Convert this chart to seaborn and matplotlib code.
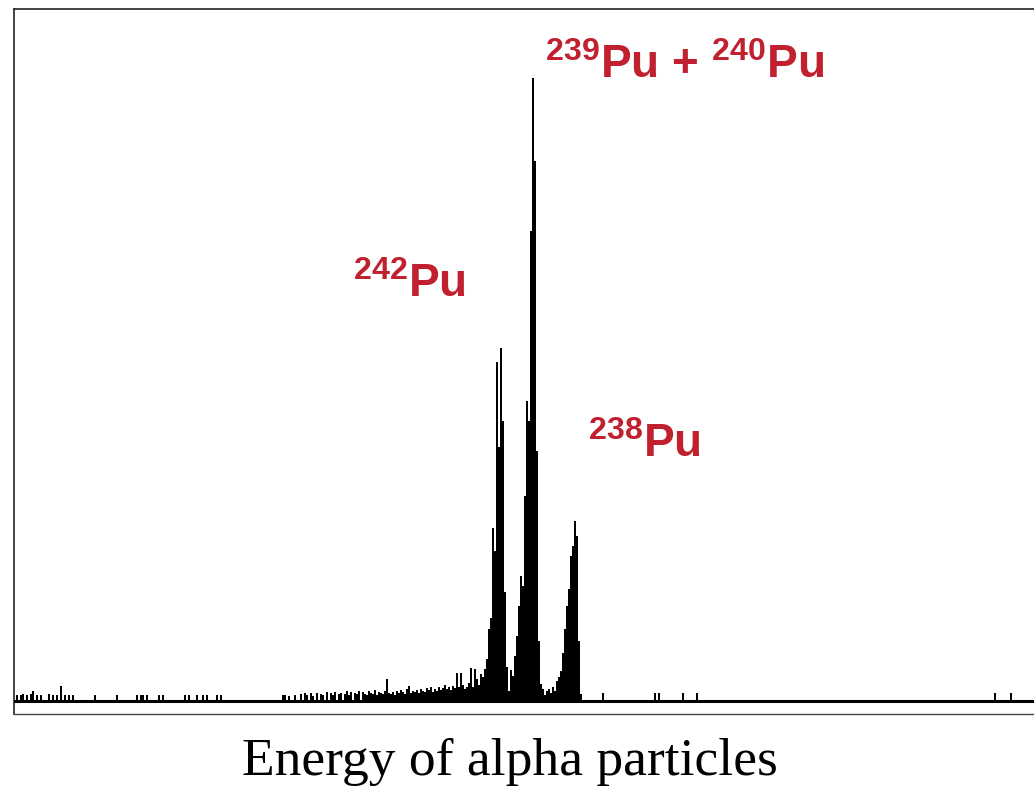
import numpy as np
import pandas as pd
import matplotlib
matplotlib.use("Agg")
import matplotlib.pyplot as plt
import seaborn as sns

sns.set_style("white")
plt.rcParams["font.family"] = ["Liberation Sans", "DejaVu Sans"]
plt.rcParams["mathtext.fontset"] = "custom"
plt.rcParams["mathtext.rm"] = "Liberation Sans:bold"
plt.rcParams["mathtext.bf"] = "Liberation Sans:bold"
plt.rcParams["mathtext.default"] = "rm"

# ---- data: alpha spectrum counts per channel ----
# sparse low-energy background stems
bg_left_channels = [1, 3, 4, 6, 8, 9, 11, 13, 17, 19, 21, 23, 25, 27, 29,
                    40, 51, 61, 63, 64, 66, 72, 74, 85, 87, 91, 94,
                    96, 101, 103]
bg_left_counts = [6, 6, 7, 6, 7, 10, 6, 6, 7, 6, 6, 15, 6, 6, 6,
                  6, 6, 6, 6, 6, 6, 6, 6, 6, 6, 6, 6,
                  6, 6, 6]

# denser background before the peaks (channels 134..227)
mid_start = 134
mid_counts = [6, 6, 0, 5, 0, 0, 6, 0, 0, 7, 0, 8, 6, 0, 8, 5, 0, 8, 0, 7,
              6, 0, 9, 0, 8, 6, 9, 0, 7, 8, 0, 7, 10, 6, 9, 0, 8, 7, 10, 0,
              9, 7, 6, 10, 8, 7, 11, 6, 9, 8, 7, 10, 22, 8, 7, 9, 6, 10, 8, 11,
              9, 7, 12, 15, 8, 10, 9, 11, 8, 12, 10, 9, 13, 11, 14, 9, 12, 10, 14, 11,
              13, 16, 12, 14, 11, 15, 13, 28, 14, 28, 16, 12, 14, 18]

# peak region: 242Pu, 239Pu+240Pu, 238Pu (channels 228..283)
peak_start = 228
peak_counts = [33, 14, 32, 22, 16, 27, 24, 32, 42, 72, 83, 173, 150, 339, 254,
               353, 280, 109, 34, 10, 31, 25, 45, 65, 95, 125, 115, 205, 300, 280,
               470, 623, 540, 250, 60, 17, 12, 6, 10, 12, 8, 14, 10, 20, 24,
               30, 48, 72, 95, 112, 145, 155, 180, 165, 60, 7]

# sparse high-energy stems
bg_right_channels = [294, 320, 322, 334, 341, 490, 498]
bg_right_counts = [8, 8, 8, 8, 8, 8, 8]

labels = ["$^{242}$Pu", "$^{239}$Pu + $^{240}$Pu", "$^{238}$Pu"]
xlabel = "Energy of alpha particles"

# ---- build tables ----
mid_channels = list(range(mid_start, mid_start + len(mid_counts)))
peak_channels = list(range(peak_start, peak_start + len(peak_counts)))

sparse = pd.DataFrame({
    "channel": bg_left_channels + bg_right_channels,
    "counts": bg_left_counts + bg_right_counts,
})
dense = pd.DataFrame({
    "channel": mid_channels + peak_channels,
    "counts": mid_counts + peak_counts,
})
dense = dense[dense["counts"] > 0]

W, H = 1034, 788
fig = plt.figure(figsize=(W / 100, H / 100), dpi=100)
ax = fig.add_axes([14 / W, 74 / H, 1020 / W, 705 / H])

sns.histplot(data=sparse, x="channel", weights="counts", discrete=True,
             shrink=0.8, color="black", alpha=1, linewidth=0, ax=ax)
sns.histplot(data=dense, x="channel", weights="counts", discrete=True,
             shrink=0.9, color="black", alpha=1, linewidth=0, ax=ax)

ax.axhline(0, color="black", lw=2.2, zorder=5)
ax.set_xlim(-0.5, 509.5)
ax.set_ylim(-13, 692)
ax.set_xticks([])
ax.set_yticks([])
ax.set_xlabel("")
ax.set_ylabel("")
for side in ["left", "top", "bottom"]:
    ax.spines[side].set_visible(True)
    ax.spines[side].set_linewidth(1.2)
    ax.spines[side].set_color("#222222")
ax.spines["bottom"].set_color("#444444")
ax.spines["bottom"].set_linewidth(1.0)
ax.spines["right"].set_visible(False)

red = "#c1202f"
fs = 33
fig.text(353 / W, 1 - 297 / H, labels[0], color=red, fontsize=fs,
         fontweight="bold", ha="left", va="baseline")
fig.text(545 / W, 1 - 78 / H, labels[1], color=red, fontsize=fs,
         fontweight="bold", ha="left", va="baseline")
fig.text(588 / W, 1 - 457 / H, labels[2], color=red, fontsize=fs,
         fontweight="bold", ha="left", va="baseline")

fig.text(509.5 / W, 1 - 775 / H, xlabel, family=["Liberation Serif"],
         fontsize=38.5, color="black", ha="center", va="baseline")

fig.savefig("out.png", dpi=100)
